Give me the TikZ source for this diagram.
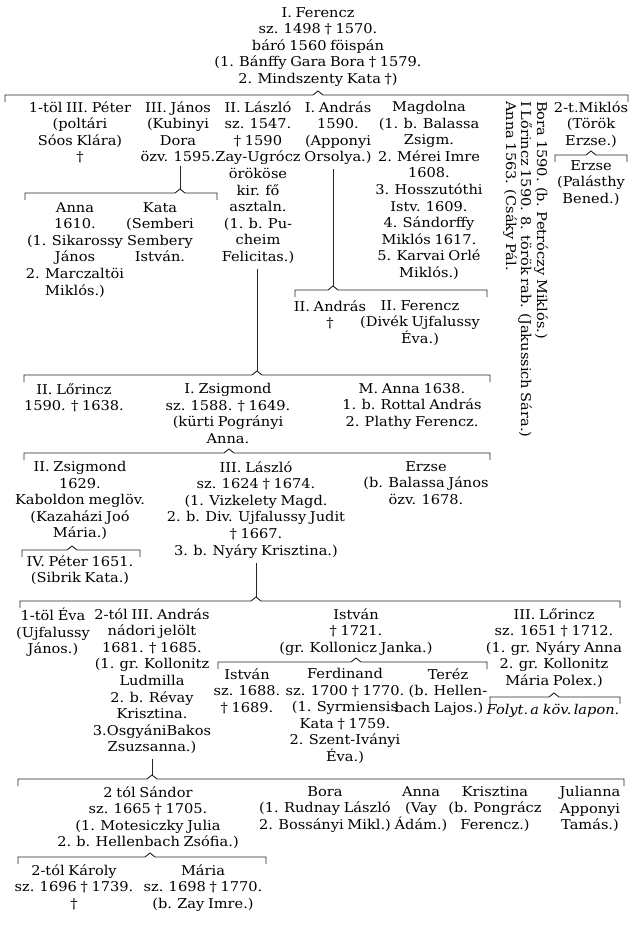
\documentclass[tikz,border=0pt]{standalone}
\usepackage{fontspec}
\setmainfont[FakeStretch=1.08,WordSpace=0.8]{DejaVu Serif}
\usetikzlibrary{calc}
\newcommand\tabfont{\fontsize{13.5}{16.6}\selectfont\lineskiplimit=-50pt\lineskip=0pt\relax}
\newcommand\famline[5]{%
  \coordinate (#1-l) at (#3,#2);
  \coordinate (#1-r) at (#4,#2);
  \coordinate (#1-p) at (#5,#2);
  \draw[conn] ($(#1-l)+(0,7)$) -- (#1-l) -- ($(#1-p)+(-5,0)$) -- ($(#1-p)+(0,-4)$) -- ($(#1-p)+(5,0)$) -- (#1-r) -- ($(#1-r)+(0,7)$);
}
\begin{document}
\begin{tikzpicture}[x=1pt,y=-1pt,
  every node/.style={inner sep=0pt},
  gen/.style={align=center, anchor=north, yshift=7pt, font=\tabfont, execute at begin node={\rule{0pt}{13.5pt}}},
  vtext/.style={anchor=west, rotate=-90, font=\tabfont},
  conn/.style={line width=0.9pt, black!85},
]
\fill[white] (0,0) rectangle (635,938);
\useasboundingbox (0,0) rectangle (635,938);

% generation 0
\node[gen] (fer) at (318,14) {I. Ferencz\\sz. 1498 † 1570.\\báró 1560 föispán\\(1. Bánffy Gara Bora † 1579.\\2. Mindszenty Kata †)};

% generation 1
\node[gen] (pet) at (80,108) {1-töl III. Péter\\(poltári\\Sóos Klára)\\†};
\node[gen] (jan) at (178,108) {III. János\\(Kubinyi\\Dora\\özv. 1595.};
\node[gen] (las) at (258,108) {II. László\\sz. 1547.\\† 1590\\Zay-Ugrócz\\örököse\\kir. fő\\asztaln.\\(1. b. Pu-\\cheim\\Felicitas.)};
\node[gen] (and) at (338,108) {I. András\\1590.\\(Apponyi\\Orsolya.)};
\node[gen] (mag) at (429,108) {Magdolna\\(1. b. Balassa\\Zsigm.\\2. Mérei Imre\\1608.\\3. Hosszutóthi\\Istv. 1609.\\4. Sándorffy\\Miklós 1617.\\5. Karvai Orlé\\Miklós.)};
\node[vtext] (annav1) at (510,101) {Anna 1563. (Csáky Pál.};
\node[vtext] (lorv1) at (525,101) {I Lőrincz 1590. 8. török rab. (Jakussich Sára.)};
\node[vtext] (borav1) at (541,101) {Bora 1590. (b. Petróczy Miklós.)};
\node[gen] (mik) at (591,108) {2-t.Miklós\\(Török\\Erzse.)};

% generation 2
\node[gen] (erzp) at (591,167) {Erzse\\(Palásthy\\Bened.)};
\node[gen] (anna1) at (75,209) {Anna\\1610.\\(1. Sikarossy\\János\\2. Marczaltöi\\Miklós.)};
\node[gen] (kata) at (160,209) {Kata\\(Semberi\\Sembery\\István.};
\node[gen] (and2) at (330,307) {II. András\\†};
\node[gen] (fer2) at (420,307) {II. Ferencz\\(Divék Ujfalussy\\Éva.)};
\node[gen] (lor2) at (74,390) {II. Lőrincz\\1590. † 1638.};
\node[gen] (zsig1) at (228,390) {I. Zsigmond\\sz. 1588. † 1649.\\(kürti Pogrányi\\Anna.};
\node[gen] (manna) at (412,390) {M. Anna 1638.\\1. b. Rottal András\\2. Plathy Ferencz.};

% generation 3
\node[gen] (zsig2) at (80,468) {II. Zsigmond\\1629.\\Kaboldon meglöv.\\(Kazaházi Joó\\Mária.)};
\node[gen] (las3) at (256,468) {III. László\\sz. 1624 † 1674.\\(1. Vizkelety Magd.\\2. b. Div. Ujfalussy Judit\\† 1667.\\3. b. Nyáry Krisztina.)};
\node[gen] (erzs) at (426,468) {Erzse\\(b. Balassa János\\özv. 1678.};
\node[gen] (pet4) at (80,562) {IV. Péter 1651.\\(Sibrik Kata.)};

% generation 4
\node[gen] (eva) at (53,615) {1-töl Éva\\(Ujfalussy\\János.)};
\node[gen] (and3) at (152,615) {2-tól III. András\\nádori jelölt\\1681. † 1685.\\(1. gr. Kollonitz\\Ludmilla\\2. b. Révay\\Krisztina.\\3.OsgyániBakos\\Zsuzsanna.)};
\node[gen] (ist) at (356,615) {István\\† 1721.\\(gr. Kollonicz Janka.)};
\node[gen] (lor3) at (554,615) {III. Lőrincz\\sz. 1651 † 1712.\\(1. gr. Nyáry Anna\\2. gr. Kollonitz\\Mária Polex.)};
\node[gen] (ist2) at (247,675) {István\\sz. 1688.\\† 1689.};
\node[gen] (ferd) at (345,675) {Ferdinand\\sz. 1700 † 1770.\\(1. Syrmiensis\hspace*{20pt}\\Kata † 1759.\hspace*{14pt}\\2. Szent-Iványi\\Éva.)};
\node[gen] (terez) at (448,675) {Teréz\\(b. Hellen-\\bach Lajos.)\hspace*{18pt}};
\node[gen] (folyt) at (553,708) {\textit{Folyt.\,a köv.\,lapon.}};

% generation 5
\node[gen] (sand) at (148,793) {2 tól Sándor\\sz. 1665 † 1705.\\(1. Motesiczky Julia\\2. b. Hellenbach Zsófia.)};
\node[gen] (bora5) at (325,793) {Bora\\(1. Rudnay László\\2. Bossányi Mikl.)};
\node[gen] (anna5) at (421,793) {Anna\\(Vay\\Ádám.)};
\node[gen] (krisz) at (495,793) {Krisztina\\(b. Pongrácz\\Ferencz.)};
\node[gen] (jul) at (590,793) {Julianna\\Apponyi\\Tamás.)};
\node[gen] (karoly) at (74,871) {2-tól Károly\\sz. 1696 † 1739.\\†};
\node[gen] (maria) at (203,871) {Mária\\sz. 1698 † 1770.\\(b. Zay Imre.)};

% family lines
\famline{b1}{95}{5}{628}{318}
\famline{bjan}{193}{25}{217}{180}
\famline{bmik}{155}{555}{627}{591}
\famline{band}{290}{295}{487}{333}
\famline{b3}{375}{24}{490}{257}
\famline{b4}{453}{24}{490}{229}
\famline{bzs}{550}{22}{140}{72}
\famline{b6}{601}{20}{620}{256}
\famline{bist}{662}{218}{487}{356}
\famline{blor}{697}{490}{620}{554}
\famline{b7}{779}{18}{624}{152}
\famline{b8}{857}{18}{266}{150}

% descent lines
\draw[conn] ($(bjan-p |- jan.south)+(0,4)$) -- ($(bjan-p)+(0,-4)$);
\draw[conn] ($(band-p |- and.south)+(0,4)$) -- ($(band-p)+(0,-4)$);
\draw[conn] ($(b3-p |- las.south)+(0,5)$) -- ($(b3-p)+(0,-4)$);
\draw[conn] ($(b6-p |- las3.south)+(0,5)$) -- ($(b6-p)+(0,-4)$);
\draw[conn] ($(b7-p |- and3.south)+(0,5)$) -- ($(b7-p)+(0,-4)$);
\end{tikzpicture}
\end{document}
